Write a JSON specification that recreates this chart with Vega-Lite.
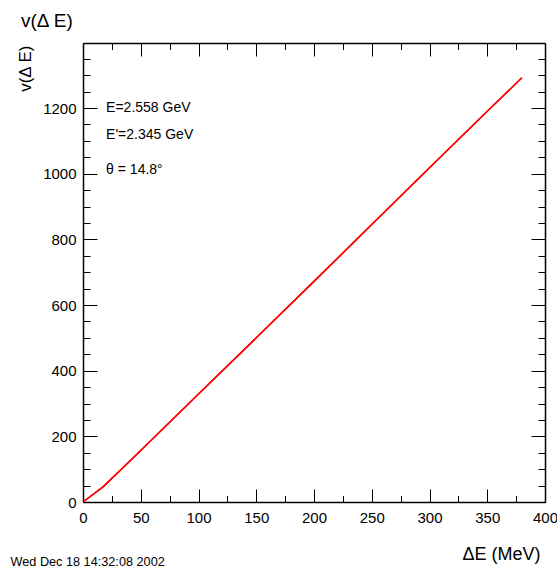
{
  "$schema": "https://vega.github.io/schema/vega-lite/v6.json",
  "width": 462,
  "height": 459,
  "autosize": "none",
  "padding": {"left": 83, "top": 43, "right": 12, "bottom": 69},
  "background": "white",
  "config": {"view": {"stroke": null}, "font": "Liberation Sans"},
  "title": {"text": "v(Δ E)", "anchor": "start", "frame": "group", "dx": -62, "fontSize": 19, "fontWeight": "normal", "font": "Liberation Sans", "color": "black", "offset": 12},
  "datasets": {
    "curve": [
      {"dE": 0, "v": 0},
      {"dE": 17.6, "v": 47},
      {"dE": 50, "v": 157},
      {"dE": 100, "v": 329},
      {"dE": 150, "v": 500},
      {"dE": 200, "v": 672},
      {"dE": 250, "v": 845},
      {"dE": 300, "v": 1018},
      {"dE": 350, "v": 1190},
      {"dE": 380, "v": 1292}
    ],
    "notes": [
      {"dE": 20, "v": 1201, "label": "E=2.558 GeV"},
      {"dE": 20, "v": 1119, "label": "E'=2.345 GeV"},
      {"dE": 20, "v": 1010, "label": "θ = 14.8°"}
    ]
  },
  "layer": [
    {
      "data": {"name": "curve"},
      "mark": {"type": "line", "color": "#ff0000", "strokeWidth": 1.5},
      "encoding": {
        "x": {
          "field": "dE", "type": "quantitative",
          "scale": {"domain": [0, 400], "nice": false, "zero": false},
          "axis": {
            "orient": "bottom",
            "values": [0,25,50,75,100,125,150,175,200,225,250,275,300,325,350,375,400],
            "format": "d",
            "labelExpr": "datum.value % 50 === 0 ? datum.label : ''",
            "tickSize": {"condition": {"test": "datum.value % 50 === 0", "value": -13}, "value": -6.5},
            "tickColor": "black", "tickWidth": 1,
            "domainColor": "black", "domainWidth": 1.5,
            "labelFontSize": 15, "labelColor": "black", "labelPadding": 21,
            "labelFlush": false, "labelOverlap": false,
            "grid": false,
            "title": "ΔE (MeV)", "titleFontSize": 18, "titleFontWeight": "normal", "titleColor": "black",
            "titleAlign": "right", "titleX": 457, "titleY": 57, "titleBaseline": "alphabetic"
          }
        },
        "y": {
          "field": "v", "type": "quantitative",
          "scale": {"domain": [0, 1398], "nice": false},
          "axis": {
            "orient": "left",
            "values": [0,50,100,150,200,250,300,350,400,450,500,550,600,650,700,750,800,850,900,950,1000,1050,1100,1150,1200,1250,1300,1350],
            "format": "d",
            "labelExpr": "datum.value % 200 === 0 ? datum.label : ''",
            "tickSize": {"condition": {"test": "datum.value % 200 === 0", "value": -14}, "value": -7},
            "tickColor": "black", "tickWidth": 1,
            "domainColor": "black", "domainWidth": 1.5,
            "labelFontSize": 15, "labelColor": "black", "labelPadding": 21,
            "labelFlush": false, "labelOverlap": false,
            "grid": false,
            "title": "v(Δ E)", "titleFontSize": 17, "titleFontWeight": "normal", "titleColor": "black",
            "titleAngle": -90, "titleAlign": "right", "titleBaseline": "alphabetic", "titleX": -53, "titleY": 2
          }
        }
      }
    },
    {
      "data": {"name": "curve"},
      "mark": {"type": "line", "color": "#ff0000", "strokeWidth": 1.5},
      "encoding": {
        "x": {
          "field": "dE", "type": "quantitative",
          "scale": {"domain": [0, 400], "nice": false, "zero": false},
          "axis": {
            "orient": "top",
            "values": [0,25,50,75,100,125,150,175,200,225,250,275,300,325,350,375,400],
            "labels": false,
            "tickSize": {"condition": {"test": "datum.value % 50 === 0", "value": -13}, "value": -6.5},
            "tickColor": "black", "tickWidth": 1,
            "domainColor": "black", "domainWidth": 1.5,
            "grid": false, "title": null
          }
        },
        "y": {
          "field": "v", "type": "quantitative",
          "scale": {"domain": [0, 1398], "nice": false},
          "axis": {
            "orient": "right",
            "values": [0,50,100,150,200,250,300,350,400,450,500,550,600,650,700,750,800,850,900,950,1000,1050,1100,1150,1200,1250,1300,1350],
            "labels": false,
            "tickSize": {"condition": {"test": "datum.value % 200 === 0", "value": -14}, "value": -7},
            "tickColor": "black", "tickWidth": 1,
            "domainColor": "black", "domainWidth": 1.5,
            "grid": false,
            "title": "Wed Dec 18 14:32:08 2002", "titleFontSize": 12.7, "titleFontWeight": "normal", "titleColor": "black",
            "titleAngle": 0, "titleAlign": "left", "titleBaseline": "alphabetic", "titleX": -535, "titleY": 522
          }
        }
      }
    },
    {
      "data": {"name": "notes"},
      "mark": {"type": "text", "align": "left", "baseline": "middle", "fontSize": 14, "color": "black"},
      "encoding": {
        "x": {"field": "dE", "type": "quantitative", "scale": {"domain": [0, 400], "nice": false, "zero": false}, "axis": null},
        "y": {"field": "v", "type": "quantitative", "scale": {"domain": [0, 1398], "nice": false}, "axis": null},
        "text": {"field": "label"}
      }
    }
  ],
  "resolve": {"axis": {"x": "independent", "y": "independent"}}
}
